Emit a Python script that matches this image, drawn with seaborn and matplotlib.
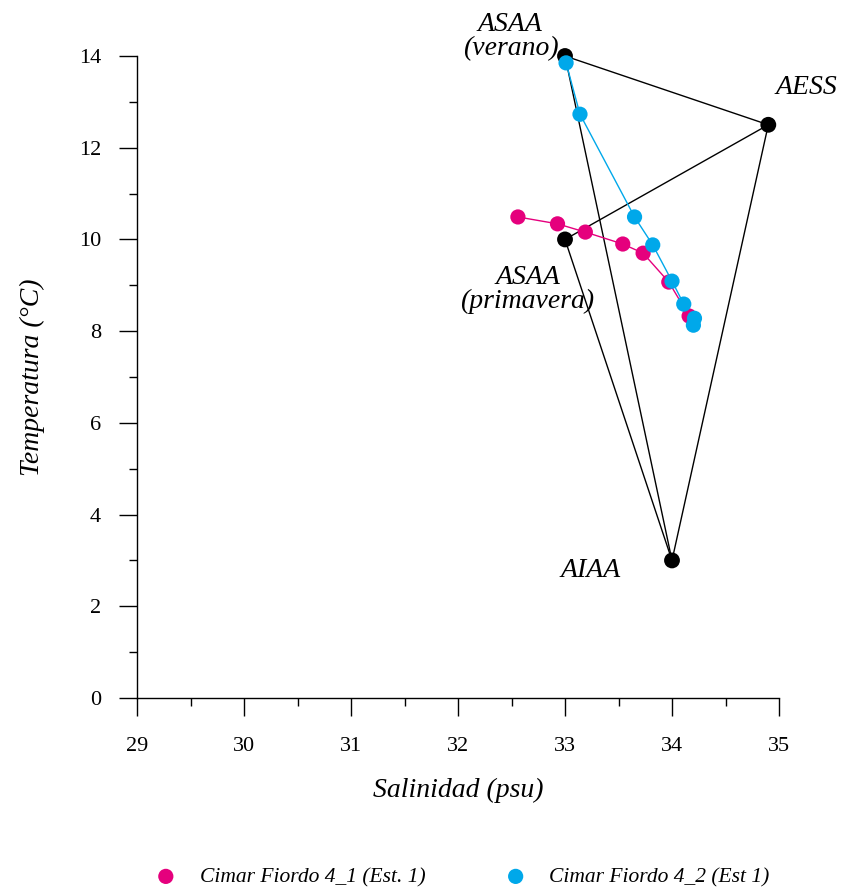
import matplotlib
matplotlib.use("Agg")
import matplotlib.pyplot as plt
import seaborn as sns
import pandas as pd
from matplotlib.ticker import MultipleLocator

# ---- data ----
sal_41 = [32.56, 32.93, 33.19, 33.54, 33.73, 33.97, 34.16]
temp_41 = [10.49, 10.34, 10.16, 9.90, 9.70, 9.07, 8.33]
sal_42 = [33.01, 33.14, 33.65, 33.82, 34.00, 34.11, 34.21, 34.20]
temp_42 = [13.85, 12.73, 10.49, 9.88, 9.09, 8.59, 8.28, 8.13]

mass_names = ["ASAA\n(verano)", "AESS", "ASAA\n(primavera)", "AIAA"]
mass_sal = [33.0, 34.9, 33.0, 34.0]
mass_temp = [14.0, 12.5, 10.0, 3.0]
# triangles connecting water masses (indices into mass lists)
mixing_lines = [(0, 1), (0, 3), (1, 3), (2, 1), (2, 3)]

series_names = ["Cimar Fiordo 4_1 (Est. 1)", "Cimar Fiordo 4_2 (Est 1)"]
pink = "#E5007D"
blue = "#00A8EA"

x_ticks = [29, 30, 31, 32, 33, 34, 35]
y_ticks = [0, 2, 4, 6, 8, 10, 12, 14]

sns.set_theme(style="white")
plt.rcParams["font.family"] = ["Liberation Serif", "DejaVu Serif"]
plt.rcParams["text.color"] = "black"
plt.rcParams["axes.labelcolor"] = "black"
plt.rcParams["xtick.color"] = "black"
plt.rcParams["ytick.color"] = "black"

fig = plt.figure(figsize=(8.43, 8.94), dpi=100)
ax = fig.add_axes([137/843, 1-698/894, (779-137)/843, (698-56)/894])

df41 = pd.DataFrame({"sal": sal_41, "temp": temp_41})
df42 = pd.DataFrame({"sal": sal_42, "temp": temp_42})
dfm = pd.DataFrame({"sal": mass_sal, "temp": mass_temp})

# mixing triangles
for i, j in mixing_lines:
    ax.plot([mass_sal[i], mass_sal[j]], [mass_temp[i], mass_temp[j]],
            color="black", lw=1.0, zorder=2, clip_on=False)

sns.lineplot(data=df41, x="sal", y="temp", sort=False, color=pink, lw=1.0,
             ax=ax, zorder=3, estimator=None)
sns.lineplot(data=df42, x="sal", y="temp", sort=False, color=blue, lw=1.0,
             ax=ax, zorder=3, estimator=None)
sns.scatterplot(data=dfm, x="sal", y="temp", color="black", s=130,
                edgecolor="none", ax=ax, zorder=4, clip_on=False)
sns.scatterplot(data=df41, x="sal", y="temp", color=pink, s=120,
                edgecolor="none", ax=ax, zorder=5, clip_on=False,
                label=series_names[0])
sns.scatterplot(data=df42, x="sal", y="temp", color=blue, s=120,
                edgecolor="none", ax=ax, zorder=6, clip_on=False,
                label=series_names[1])

# water mass labels (offsets from each water-mass point)
label_offsets = [(-0.51, 0.43), (0.36, 0.82), (-0.35, -1.10), (-0.76, -0.21)]
for name, s, t, (dx, dy) in zip(mass_names, mass_sal, mass_temp, label_offsets):
    ax.text(s + dx, t + dy, name, fontsize=20, fontstyle="italic",
            ha="center", va="center", linespacing=0.95)

ax.set_xlim(29, 35)
ax.set_ylim(0, 14)
ax.set_xticks(x_ticks)
ax.set_yticks(y_ticks)
ax.xaxis.set_minor_locator(MultipleLocator(0.5))
ax.yaxis.set_minor_locator(MultipleLocator(1))
ax.tick_params(which="major", direction="out", length=13, width=1.0,
               color="black", labelsize=16, bottom=True, left=True)
ax.tick_params(axis="x", which="major", pad=15)
ax.tick_params(axis="y", which="major", pad=13)
ax.tick_params(which="minor", direction="out", length=6, width=1.0,
               color="black", bottom=True, left=True)
for side in ["top", "right"]:
    ax.spines[side].set_visible(False)
for side in ["left", "bottom"]:
    ax.spines[side].set_color("black")
    ax.spines[side].set_linewidth(1.0)

ax.set_xlabel("Salinidad (psu)", fontsize=20, fontstyle="italic", labelpad=16)
ax.set_ylabel("Temperatura (°C)", fontsize=20, fontstyle="italic", labelpad=24)

leg = ax.legend(loc="center", bbox_to_anchor=(457/843, 1-877/894),
                bbox_transform=fig.transFigure, ncol=2, frameon=False,
                fontsize=15.5, columnspacing=3.2, handletextpad=0.57,
                markerscale=1.0)
for txt in leg.get_texts():
    txt.set_fontstyle("italic")

fig.savefig("out.png", dpi=100, facecolor="white")
